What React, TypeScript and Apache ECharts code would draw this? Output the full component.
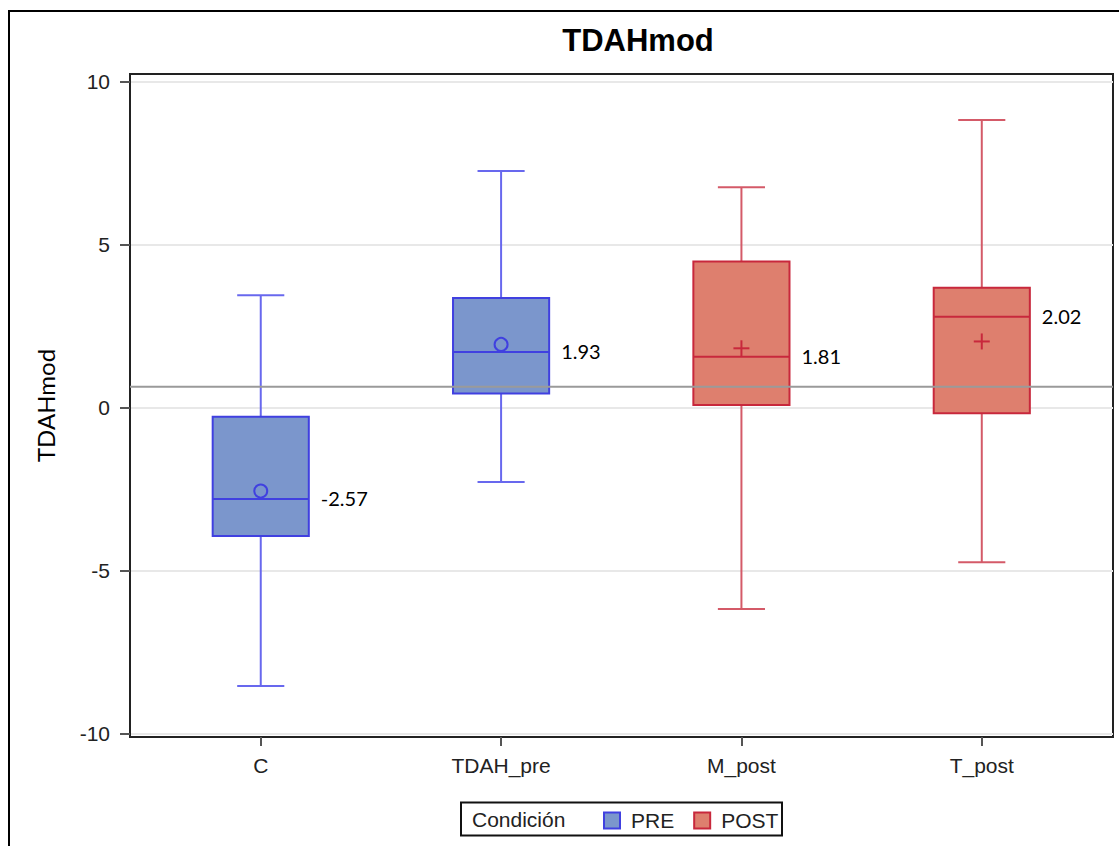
import React, { useEffect, useRef } from "react";
import * as echarts from "echarts";

// ---- data ----
const categories = ["C", "TDAH_pre", "M_post", "T_post"];
const groups = ["PRE", "PRE", "POST", "POST"];
const whiskerLow = [-8.55, -2.29, -6.19, -4.75];
const q1 = [-3.95, 0.42, 0.07, -0.18];
const median = [-2.81, 1.7, 1.55, 2.78];
const q3 = [-0.29, 3.35, 4.47, 3.67];
const whiskerHigh = [3.44, 7.25, 6.75, 8.81];
const means = [-2.57, 1.93, 1.81, 2.02];
const referenceLine = 0.63;
const yTicks = [-10, -5, 0, 5, 10];
const xTicks = [0, 1, 2, 3];

const X_MIN = -0.544;
const X_MAX = 3.546;
const Y_MIN = -10.113;
const Y_MAX = 10.224;

const STYLES: Record<string, any> = {
  PRE: { fill: "#7b96cc", border: "#4040e0", whisker: "#6868ee", meanSymbol: "circle" },
  POST: { fill: "#de7f6e", border: "#c8283c", whisker: "#d45a68", meanSymbol: "plus" },
};

const TICK_FONT = "'Liberation Sans', Arial, sans-serif";

function makeData(group: string) {
  const out: number[][] = [];
  categories.forEach((_, i) => {
    if (groups[i] === group) {
      out.push([i, whiskerLow[i], q1[i], median[i], q3[i], whiskerHigh[i], means[i]]);
    }
  });
  return out;
}

function makeRenderItem(group: string) {
  const st = STYLES[group];
  return (params: any, api: any) => {
    const x = api.value(0);
    const pLo = api.coord([x, api.value(1)]);
    const pQ1 = api.coord([x, api.value(2)]);
    const pMed = api.coord([x, api.value(3)]);
    const pQ3 = api.coord([x, api.value(4)]);
    const pHi = api.coord([x, api.value(5)]);
    const pMean = api.coord([x, api.value(6)]);
    const meanVal = api.value(6);
    const boxW = api.size([0.4, 0])[0];
    const half = boxW / 2;
    const capHalf = boxW * 0.245;
    const cx = pMed[0];
    const children: any[] = [
      { type: "line", shape: { x1: cx, y1: pHi[1], x2: cx, y2: pQ3[1] }, style: { stroke: st.whisker, lineWidth: 2 } },
      { type: "line", shape: { x1: cx, y1: pQ1[1], x2: cx, y2: pLo[1] }, style: { stroke: st.whisker, lineWidth: 2 } },
      { type: "line", shape: { x1: cx - capHalf, y1: pHi[1], x2: cx + capHalf, y2: pHi[1] }, style: { stroke: st.whisker, lineWidth: 2 } },
      { type: "line", shape: { x1: cx - capHalf, y1: pLo[1], x2: cx + capHalf, y2: pLo[1] }, style: { stroke: st.whisker, lineWidth: 2 } },
      {
        type: "rect",
        shape: { x: cx - half, y: pQ3[1], width: boxW, height: pQ1[1] - pQ3[1] },
        style: { fill: st.fill, stroke: st.border, lineWidth: 2 },
      },
      { type: "line", shape: { x1: cx - half, y1: pMed[1], x2: cx + half, y2: pMed[1] }, style: { stroke: st.border, lineWidth: 2 } },
    ];
    if (st.meanSymbol === "circle") {
      children.push({ type: "circle", shape: { cx: pMean[0], cy: pMean[1], r: 6.5 }, style: { fill: "none", stroke: st.border, lineWidth: 2 } });
    } else {
      children.push({ type: "line", shape: { x1: pMean[0] - 8, y1: pMean[1], x2: pMean[0] + 8, y2: pMean[1] }, style: { stroke: st.border, lineWidth: 2 } });
      children.push({ type: "line", shape: { x1: pMean[0], y1: pMean[1] - 8, x2: pMean[0], y2: pMean[1] + 8 }, style: { stroke: st.border, lineWidth: 2 } });
    }
    children.push({
      type: "text",
      x: cx + half + 12,
      y: pMed[1] - 1,
      style: {
        text: meanVal.toFixed(2),
        fontFamily: "Lato, 'Open Sans', sans-serif",
        fontSize: 20,
        fill: "#000",
        align: "left",
        verticalAlign: "middle",
      },
    });
    return { type: "group", children };
  };
}

export default function App() {
  const ref = useRef<HTMLDivElement>(null);
  useEffect(() => {
    const chart = echarts.init(ref.current!, null, { renderer: "svg" });
    const option: any = {
      animation: false,
      backgroundColor: "#ffffff",
      title: {
        text: "TDAHmod",
        left: 638,
        top: 25,
        textAlign: "center",
        padding: 0,
        textStyle: { fontSize: 31, fontWeight: "bold", fontFamily: TICK_FONT, color: "#000" },
      },
      grid: {
        left: 130,
        right: 6,
        top: 74,
        bottom: 109,
        show: true,
        borderColor: "#222",
        borderWidth: 2,
        backgroundColor: "transparent",
      },
      legend: {
        left: 603,
        top: 810,
        padding: 0,
        itemWidth: 16,
        itemHeight: 16,
        itemGap: 19,
        selectedMode: false,
        textStyle: { fontSize: 21, fontFamily: TICK_FONT, color: "#222", padding: [0, 0, 0, 6] },
        data: [
          { name: "PRE", icon: "rect", itemStyle: { color: STYLES.PRE.fill, borderColor: STYLES.PRE.border, borderWidth: 2 } },
          { name: "POST", icon: "rect", itemStyle: { color: STYLES.POST.fill, borderColor: STYLES.POST.border, borderWidth: 2 } },
        ],
      },
      xAxis: {
        type: "value",
        min: X_MIN,
        max: X_MAX,
        axisLine: { show: true, onZero: false, lineStyle: { color: "#222", width: 2 } },
        axisTick: { show: true, customValues: xTicks, length: 9, lineStyle: { color: "#555", width: 2 } },
        axisLabel: {
          customValues: xTicks,
          formatter: (v: number) => categories[Math.round(v)] ?? "",
          fontSize: 21,
          fontFamily: TICK_FONT,
          color: "#222",
          margin: 18,
        },
        splitLine: { show: false },
      },
      yAxis: {
        type: "value",
        min: Y_MIN,
        max: Y_MAX,
        name: "TDAHmod",
        nameLocation: "middle",
        nameRotate: 90,
        nameGap: 73,
        nameTextStyle: { fontFamily: "Lato, 'Open Sans', sans-serif", fontSize: 24, color: "#000" },
        axisLine: { show: true, onZero: false, lineStyle: { color: "#222", width: 2 } },
        axisTick: { show: true, customValues: yTicks, length: 10, lineStyle: { color: "#555", width: 2 } },
        axisLabel: {
          customValues: yTicks,
          formatter: (v: number) => String(Math.round(v)),
          fontSize: 21,
          fontFamily: TICK_FONT,
          color: "#222",
          margin: 20,
        },
        splitLine: { show: true, lineStyle: { color: "#e8e8e8", width: 2 } },
      },
      series: [
        {
          name: "PRE",
          type: "custom",
          renderItem: makeRenderItem("PRE"),
          itemStyle: { color: STYLES.PRE.fill, borderColor: STYLES.PRE.border },
          encode: { x: 0, y: [1, 2, 3, 4, 5] },
          data: makeData("PRE"),
          z: 2,
        },
        {
          name: "POST",
          type: "custom",
          renderItem: makeRenderItem("POST"),
          itemStyle: { color: STYLES.POST.fill, borderColor: STYLES.POST.border },
          encode: { x: 0, y: [1, 2, 3, 4, 5] },
          data: makeData("POST"),
          z: 2,
        },
        {
          name: "ref",
          type: "line",
          data: [
            [X_MIN, referenceLine],
            [X_MAX, referenceLine],
          ],
          symbol: "none",
          silent: true,
          lineStyle: { color: "#9a9a9a", width: 2 },
          z: 5,
        },
      ],
      graphic: [
        {
          type: "rect",
          silent: true,
          shape: { x: 9, y: 11, width: 1300, height: 1000 },
          style: { fill: "none", stroke: "#000", lineWidth: 2 },
        },
        {
          type: "rect",
          silent: true,
          shape: { x: 461, y: 802.5, width: 321, height: 33 },
          style: { fill: "#fff", stroke: "#111", lineWidth: 2 },
          z: -1,
        },
        {
          type: "text",
          silent: true,
          x: 472,
          y: 819,
          style: {
            text: "Condición",
            fontSize: 21,
            fontFamily: TICK_FONT,
            fill: "#222",
            align: "left",
            verticalAlign: "middle",
          },
        },
      ],
    };
    chart.setOption(option);
    return () => chart.dispose();
  }, []);
  return (
    <div
      ref={ref}
      style={{ position: "fixed", left: 0, top: 0, width: 1119, height: 846, background: "#fff" }}
    />
  );
}
